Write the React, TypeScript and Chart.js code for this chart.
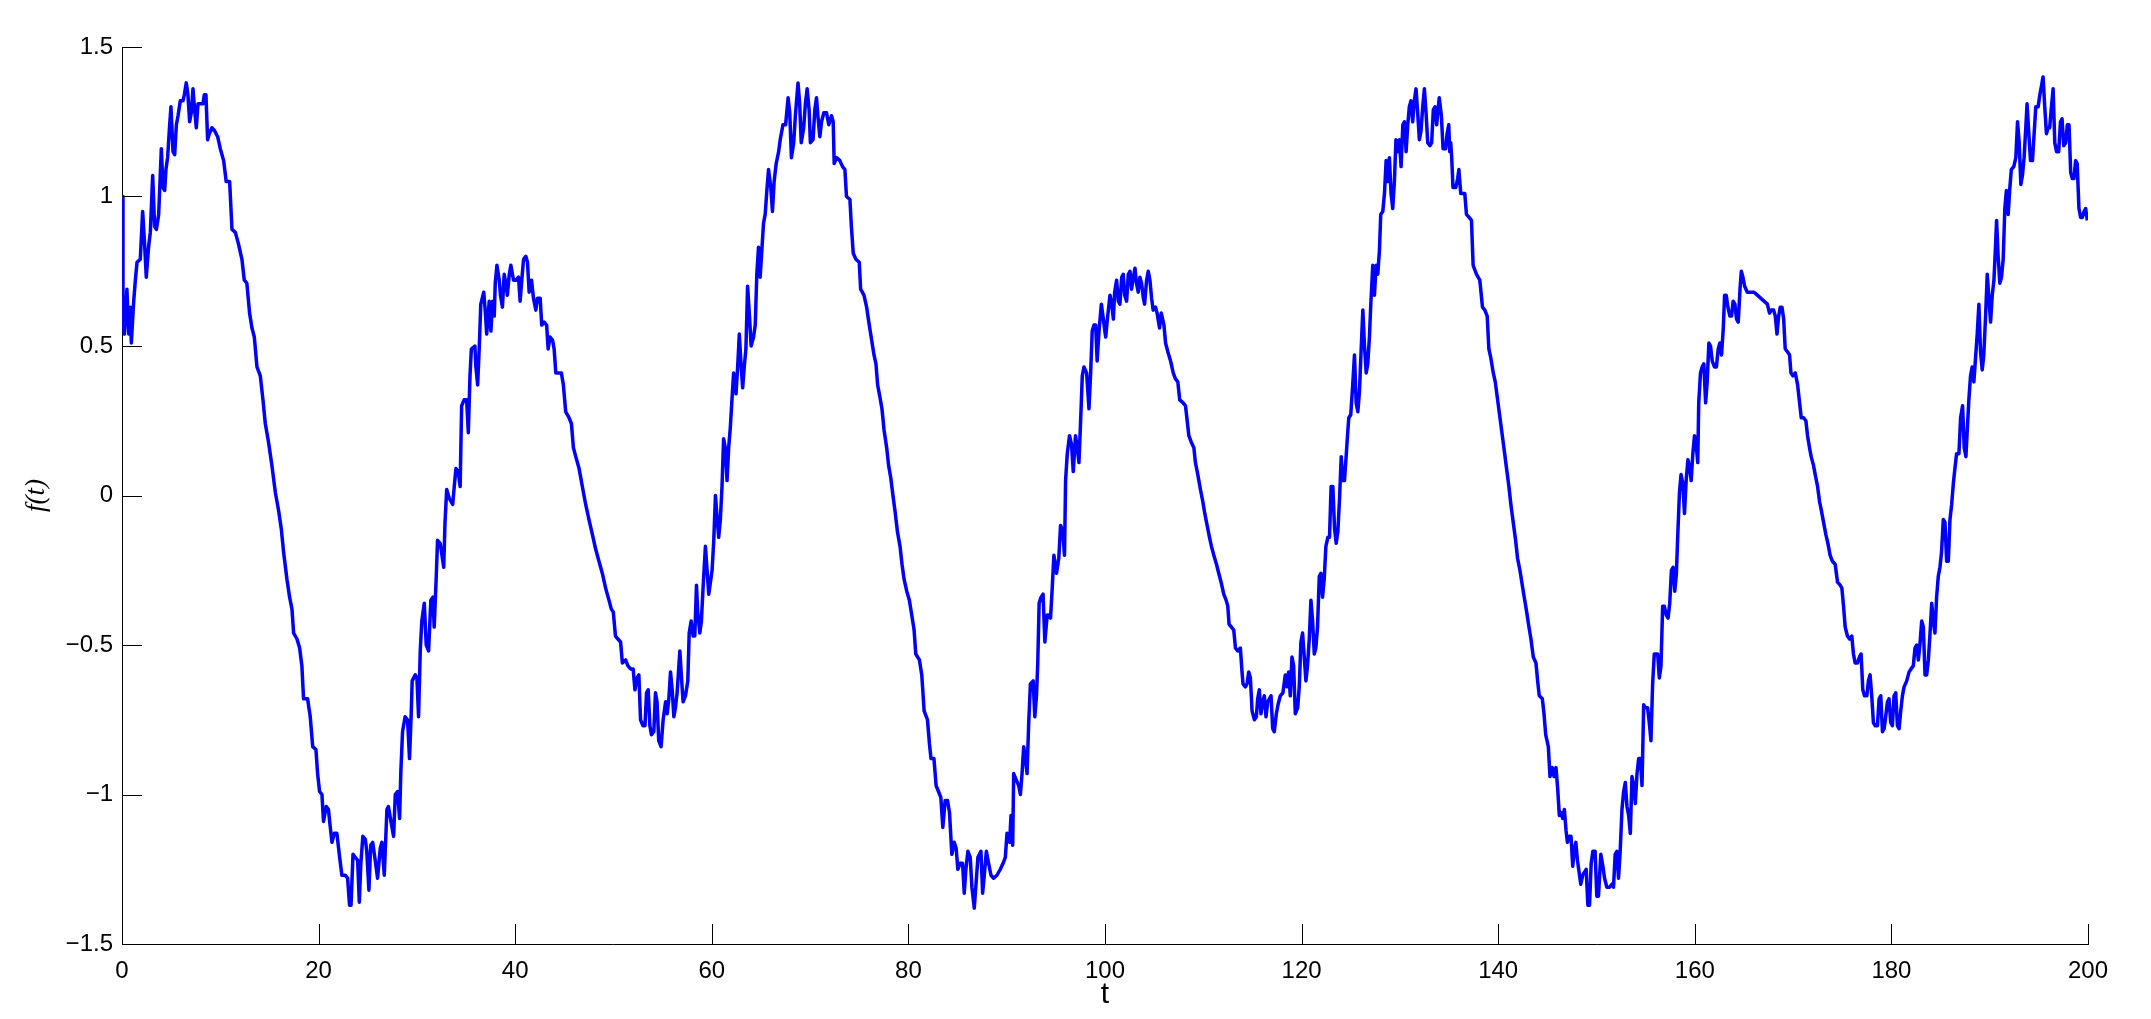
import React, { useEffect, useRef } from "react";
import { Chart, registerables } from "chart.js";

Chart.register(...registerables);

// Tick values
const X_TICKS = [0, 20, 40, 60, 80, 100, 120, 140, 160, 180, 200];
const Y_TICKS = [-1.5, -1, -0.5, 0, 0.5, 1, 1.5];
const X_LABEL = "t";
const Y_LABEL = "f(t)";

// Samples [t, f(t)], one array per stretch of the curve
const segmentA: [number, number][] = [
  [0, 1.0], [0.1, 0.59], [0.24, 0.54], [0.5, 0.69], [0.68, 0.54], [0.85, 0.63], [0.95, 0.51], [1.19, 0.65], [1.36, 0.72], [1.53, 0.78], [1.86, 0.79], [2.1, 0.95], [2.3, 0.84], [2.47, 0.73], [2.7, 0.83], [2.88, 0.88], [3.12, 1.07], [3.32, 0.9], [3.5, 0.89], [3.73, 0.94], [3.83, 1.02], [4.0, 1.16], [4.17, 1.03], [4.34, 1.02], [4.47, 1.09], [4.64, 1.13], [4.85, 1.24], [4.98, 1.3], [5.19, 1.15], [5.36, 1.14], [5.53, 1.24], [5.7, 1.27], [5.93, 1.32], [6.2, 1.32], [6.34, 1.34], [6.54, 1.38], [6.71, 1.34], [6.88, 1.25], [7.05, 1.28], [7.22, 1.36], [7.39, 1.29], [7.56, 1.23], [7.73, 1.31], [7.97, 1.31], [8.24, 1.31], [8.37, 1.34], [8.54, 1.34], [8.71, 1.19], [8.88, 1.21], [9.15, 1.23], [9.42, 1.22], [9.73, 1.2], [10.0, 1.16], [10.34, 1.12], [10.6, 1.05], [10.95, 1.05], [11.19, 0.89], [11.53, 0.88], [11.86, 0.84], [12.2, 0.79], [12.44, 0.72], [12.7, 0.71], [12.98, 0.61], [13.22, 0.56], [13.46, 0.53], [13.73, 0.43], [14.07, 0.4], [14.34, 0.32], [14.58, 0.24], [14.9, 0.18], [15.25, 0.1], [15.6, 0.01], [15.93, -0.05], [16.2, -0.11], [16.44, -0.19], [16.78, -0.28], [17.05, -0.34], [17.29, -0.38], [17.46, -0.46], [17.8, -0.48], [18.07, -0.51], [18.3, -0.57], [18.47, -0.68], [18.88, -0.68], [19.15, -0.74], [19.4, -0.84], [19.73, -0.85], [19.9, -0.93], [20.1, -0.99], [20.34, -1.0], [20.5, -1.09], [20.78, -1.04], [21.0, -1.05], [21.19, -1.11], [21.36, -1.16], [21.6, -1.13], [21.86, -1.13], [22.14, -1.21], [22.37, -1.27], [22.7, -1.27], [22.95, -1.28], [23.15, -1.37], [23.3, -1.37], [23.5, -1.2], [23.73, -1.21], [23.97, -1.22], [24.14, -1.36], [24.3, -1.23], [24.5, -1.14], [24.75, -1.15], [24.9, -1.19], [25.12, -1.32], [25.3, -1.17], [25.5, -1.16], [25.76, -1.22], [26.0, -1.28], [26.27, -1.18], [26.44, -1.16], [26.68, -1.27], [26.95, -1.05], [27.1, -1.04], [27.36, -1.09], [27.63, -1.14], [27.8, -1.0], [28.03, -0.99], [28.24, -1.08], [28.37, -0.92], [28.54, -0.79], [28.8, -0.74], [29.05, -0.75], [29.25, -0.88], [29.42, -0.73], [29.52, -0.62], [29.83, -0.6], [30.0, -0.61], [30.17, -0.74], [30.34, -0.52], [30.5, -0.42], [30.75, -0.36], [30.95, -0.5], [31.19, -0.52], [31.42, -0.35], [31.63, -0.34], [31.76, -0.44], [31.97, -0.27], [32.1, -0.15], [32.37, -0.16],
];

const segmentB: [number, number][] = [
  [32.73, -0.24], [32.86, -0.09], [33.03, 0.02], [33.3, -0.01], [33.64, -0.03], [33.8, 0.03], [33.97, 0.09], [34.2, 0.08], [34.4, 0.03], [34.55, 0.3], [34.8, 0.32], [35.06, 0.32], [35.23, 0.21], [35.4, 0.4], [35.54, 0.49], [35.9, 0.5], [36.0, 0.43], [36.18, 0.37], [36.35, 0.5], [36.5, 0.64], [36.8, 0.68], [36.97, 0.61], [37.1, 0.54], [37.36, 0.65], [37.53, 0.55], [37.7, 0.65], [37.87, 0.6], [37.97, 0.71], [38.14, 0.77], [38.38, 0.72], [38.5, 0.67], [38.7, 0.63], [38.88, 0.74], [39.05, 0.71], [39.2, 0.67], [39.4, 0.74], [39.56, 0.77], [39.83, 0.72], [40.07, 0.72], [40.34, 0.73], [40.5, 0.65], [40.67, 0.72], [40.85, 0.79], [41.08, 0.8], [41.25, 0.78], [41.42, 0.68], [41.66, 0.72], [41.86, 0.66], [42.1, 0.62], [42.27, 0.66], [42.54, 0.66], [42.7, 0.57], [42.94, 0.58], [43.2, 0.57], [43.35, 0.49], [43.55, 0.53], [43.8, 0.52], [43.96, 0.49], [44.13, 0.41], [44.36, 0.41], [44.7, 0.41], [44.9, 0.37], [45.14, 0.28], [45.48, 0.26], [45.72, 0.24], [45.92, 0.16], [46.16, 0.13], [46.5, 0.09], [46.83, 0.03], [47.17, -0.03], [47.5, -0.08], [47.85, -0.13], [48.19, -0.18], [48.52, -0.22], [48.86, -0.26], [49.2, -0.31], [49.54, -0.35], [49.78, -0.38], [49.98, -0.39], [50.2, -0.47], [50.45, -0.48], [50.72, -0.49], [50.9, -0.56], [51.23, -0.55], [51.47, -0.57], [51.74, -0.58], [52.0, -0.58], [52.18, -0.65], [52.4, -0.61], [52.58, -0.6], [52.75, -0.75], [52.99, -0.77], [53.2, -0.77], [53.36, -0.66], [53.53, -0.65], [53.7, -0.77], [53.86, -0.8], [54.1, -0.79], [54.27, -0.66], [54.43, -0.69], [54.6, -0.82], [54.84, -0.84], [55.05, -0.75], [55.3, -0.69], [55.46, -0.73], [55.63, -0.68], [55.8, -0.59], [55.97, -0.65], [56.14, -0.74], [56.3, -0.71], [56.47, -0.66], [56.75, -0.52], [56.9, -0.6], [57.08, -0.69], [57.32, -0.67], [57.56, -0.62], [57.7, -0.46], [57.9, -0.42], [58.1, -0.47], [58.27, -0.47], [58.44, -0.3], [58.57, -0.39], [58.78, -0.46], [58.94, -0.42], [59.11, -0.31], [59.35, -0.17], [59.52, -0.25], [59.69, -0.33], [59.86, -0.29], [60.03, -0.25], [60.2, -0.15], [60.37, 0.0], [60.53, -0.07], [60.7, -0.14], [60.87, -0.08], [61.04, 0.03], [61.2, 0.19], [61.37, 0.16], [61.55, 0.05], [61.72, 0.16], [61.89, 0.23], [62.05, 0.32], [62.22, 0.41], [62.46, 0.34], [62.63, 0.43], [62.8, 0.54], [62.97, 0.44], [63.14, 0.36], [63.3, 0.43], [63.47, 0.49], [63.64, 0.7], [63.85, 0.59], [64.0, 0.5], [64.25, 0.53], [64.42, 0.57], [64.58, 0.74], [64.75, 0.83], [64.92, 0.73], [65.09, 0.82], [65.26, 0.91], [65.43, 0.94], [65.6, 1.02], [65.77, 1.09], [66.0, 1.03], [66.17, 0.95], [66.34, 1.05], [66.55, 1.11], [66.8, 1.15], [66.96, 1.19],
];

const segmentC: [number, number][] = [
  [67.24, 1.24], [67.51, 1.24], [67.76, 1.33], [67.93, 1.28], [68.1, 1.13], [68.33, 1.18], [68.5, 1.27], [68.77, 1.38], [68.94, 1.31], [69.1, 1.18], [69.35, 1.23], [69.52, 1.31], [69.7, 1.36], [69.9, 1.29], [70.03, 1.18], [70.3, 1.19], [70.48, 1.29], [70.65, 1.33], [70.82, 1.26], [70.99, 1.2], [71.16, 1.25], [71.4, 1.28], [71.67, 1.28], [71.9, 1.24], [72.18, 1.27], [72.35, 1.25], [72.45, 1.11], [72.69, 1.13], [73.03, 1.12], [73.3, 1.1], [73.54, 1.09], [73.7, 1.0], [74.05, 0.99], [74.2, 0.9], [74.39, 0.81], [74.66, 0.79], [75.0, 0.78], [75.14, 0.69], [75.48, 0.67], [75.75, 0.63], [76.02, 0.57], [76.26, 0.52], [76.5, 0.47], [76.7, 0.44], [76.87, 0.37], [77.1, 0.33], [77.31, 0.29], [77.52, 0.22], [77.79, 0.16], [77.99, 0.1], [78.2, 0.06], [78.47, -0.01], [78.67, -0.06], [78.88, -0.12], [79.15, -0.17], [79.35, -0.23], [79.56, -0.28], [79.83, -0.32], [80.1, -0.35], [80.34, -0.4], [80.58, -0.45], [80.75, -0.53], [81.12, -0.55], [81.36, -0.6], [81.6, -0.72], [81.94, -0.75], [82.14, -0.83], [82.3, -0.88], [82.6, -0.88], [82.82, -0.97], [83.06, -0.99], [83.3, -1.01], [83.5, -1.11], [83.74, -1.02], [83.98, -1.02], [84.18, -1.06], [84.42, -1.2], [84.66, -1.16], [84.86, -1.18], [85.03, -1.25], [85.27, -1.23], [85.51, -1.23], [85.68, -1.33], [85.85, -1.25], [86.05, -1.19], [86.29, -1.21], [86.46, -1.31], [86.7, -1.38], [86.9, -1.29], [87.07, -1.21], [87.38, -1.19], [87.55, -1.33], [87.72, -1.27], [87.93, -1.19], [88.16, -1.23], [88.4, -1.27], [88.67, -1.28], [89.01, -1.27], [89.35, -1.25], [89.63, -1.23], [89.86, -1.21], [90.03, -1.13], [90.3, -1.16], [90.44, -1.07], [90.61, -1.17], [90.71, -0.93], [90.95, -0.95], [91.22, -0.97], [91.39, -1.0], [91.56, -0.93], [91.73, -0.84], [91.9, -0.88], [92.07, -0.93], [92.24, -0.76], [92.41, -0.63], [92.69, -0.62], [92.86, -0.74], [93.03, -0.67], [93.16, -0.56], [93.3, -0.36], [93.5, -0.34], [93.7, -0.33], [93.88, -0.49], [94.12, -0.4], [94.29, -0.4], [94.46, -0.41], [94.63, -0.31], [94.8, -0.2], [95.07, -0.26], [95.3, -0.21], [95.48, -0.1], [95.71, -0.12], [95.88, -0.2], [95.99, 0.05], [96.16, 0.14], [96.39, 0.2], [96.6, 0.17], [96.77, 0.08], [97.0, 0.2], [97.18, 0.16], [97.35, 0.11], [97.52, 0.25], [97.69, 0.4], [97.86, 0.43], [98.13, 0.41], [98.37, 0.29], [98.54, 0.41], [98.7, 0.55], [98.88, 0.57], [99.05, 0.57], [99.2, 0.45], [99.39, 0.55], [99.63, 0.64], [99.83, 0.59], [100.07, 0.53], [100.24, 0.59], [100.51, 0.67],
];

const segmentD: [number, number][] = [
  [100.68, 0.64], [100.85, 0.59], [100.98, 0.68], [101.18, 0.72], [101.35, 0.65], [101.52, 0.64], [101.7, 0.73], [101.86, 0.74], [102.0, 0.67], [102.2, 0.65], [102.37, 0.74], [102.54, 0.75], [102.7, 0.69], [102.88, 0.73], [103.05, 0.76], [103.2, 0.71], [103.38, 0.68], [103.55, 0.73], [103.72, 0.71], [103.9, 0.66], [104.03, 0.64], [104.23, 0.72], [104.4, 0.75], [104.57, 0.72], [104.74, 0.66], [104.9, 0.62], [105.14, 0.63], [105.3, 0.61], [105.55, 0.56], [105.72, 0.61], [106.0, 0.57], [106.16, 0.51], [106.4, 0.48], [106.67, 0.45], [106.94, 0.41], [107.17, 0.39], [107.41, 0.38], [107.6, 0.32], [107.95, 0.31], [108.19, 0.3], [108.36, 0.25], [108.53, 0.2], [108.76, 0.18], [109.04, 0.16], [109.2, 0.11], [109.44, 0.07], [109.71, 0.02], [109.95, -0.02], [110.15, -0.06], [110.39, -0.1], [110.63, -0.14], [110.83, -0.17], [111.07, -0.2], [111.34, -0.23], [111.57, -0.26], [111.81, -0.29], [112.08, -0.33], [112.32, -0.35], [112.49, -0.37], [112.62, -0.43], [112.86, -0.44], [113.1, -0.45], [113.27, -0.51], [113.5, -0.52], [113.77, -0.51], [113.94, -0.59], [114.04, -0.63], [114.28, -0.64], [114.45, -0.63], [114.62, -0.59], [114.79, -0.61], [114.96, -0.72], [115.2, -0.75], [115.4, -0.74], [115.53, -0.68], [115.7, -0.65], [115.87, -0.73], [116.04, -0.69], [116.21, -0.67], [116.38, -0.74], [116.55, -0.69], [116.72, -0.68], [116.89, -0.67], [117.06, -0.78], [117.22, -0.79], [117.43, -0.73], [117.6, -0.7], [117.83, -0.67], [118.1, -0.66], [118.34, -0.6], [118.51, -0.64], [118.68, -0.59], [118.85, -0.67], [119.02, -0.54], [119.19, -0.57], [119.36, -0.73], [119.6, -0.71], [119.76, -0.64], [119.93, -0.49], [120.1, -0.46], [120.27, -0.54], [120.44, -0.62], [120.6, -0.57], [120.78, -0.48], [120.95, -0.35], [121.12, -0.42], [121.29, -0.53], [121.45, -0.51], [121.62, -0.44], [121.8, -0.27], [121.96, -0.26], [122.13, -0.34], [122.3, -0.28], [122.47, -0.17], [122.67, -0.14], [122.84, -0.14], [123.0, 0.03], [123.18, 0.03], [123.35, -0.11], [123.52, -0.16], [123.69, -0.12], [123.86, -0.01], [124.03, 0.13], [124.2, 0.05], [124.36, 0.05], [124.53, 0.13], [124.67, 0.2], [124.8, 0.26], [125.0, 0.27], [125.2, 0.37], [125.38, 0.47], [125.55, 0.31], [125.72, 0.28], [125.89, 0.35], [126.06, 0.49], [126.23, 0.62], [126.4, 0.5], [126.57, 0.41], [126.73, 0.44], [126.9, 0.53], [127.04, 0.64], [127.24, 0.77], [127.41, 0.67], [127.58, 0.77], [127.75, 0.74], [127.92, 0.82], [128.05, 0.94], [128.26, 0.95], [128.43, 1.01], [128.6, 1.12], [128.76, 1.05], [128.93, 1.13], [129.1, 1.01], [129.27, 0.96], [129.44, 1.05], [129.6, 1.19], [129.78, 1.15], [129.95, 1.19], [130.12, 1.1], [130.3, 1.24], [130.46, 1.25], [130.63, 1.15], [130.8, 1.24], [130.96, 1.3], [131.13, 1.32], [131.3, 1.25], [131.47, 1.32], [131.64, 1.36], [131.81, 1.28], [131.98, 1.19], [132.15, 1.22], [132.32, 1.3], [132.49, 1.36], [132.66, 1.28], [132.83, 1.18], [133.06, 1.17], [133.23, 1.18], [133.4, 1.29], [133.57, 1.3], [133.74, 1.24], [134.0, 1.33],
];

const segmentE: [number, number][] = [
  [134.22, 1.27], [134.39, 1.16], [134.66, 1.16], [134.8, 1.21], [134.97, 1.24], [135.07, 1.15], [135.17, 1.18], [135.27, 1.13], [135.4, 1.03], [135.68, 1.03], [135.88, 1.06], [136.0, 1.09], [136.19, 1.01], [136.43, 1.01], [136.6, 1.01], [136.77, 0.94], [137.04, 0.93], [137.28, 0.92], [137.45, 0.77], [137.79, 0.74], [138.13, 0.72], [138.4, 0.63], [138.64, 0.62], [138.88, 0.6], [139.05, 0.49], [139.25, 0.46], [139.5, 0.41], [139.7, 0.38], [139.9, 0.33], [140.1, 0.28], [140.34, 0.22], [140.58, 0.16], [140.85, 0.09], [141.09, 0.03], [141.29, -0.03], [141.53, -0.09], [141.77, -0.15], [141.97, -0.21], [142.21, -0.25], [142.45, -0.3], [142.65, -0.34], [142.9, -0.39], [143.13, -0.44], [143.33, -0.48], [143.57, -0.54], [143.84, -0.56], [144.01, -0.62], [144.18, -0.67], [144.49, -0.68], [144.66, -0.73], [144.83, -0.8], [145.1, -0.84], [145.27, -0.94], [145.51, -0.91], [145.68, -0.94], [145.88, -0.91], [146.05, -0.98], [146.22, -1.07], [146.39, -1.06], [146.56, -1.08], [146.73, -1.05], [146.9, -1.12], [147.04, -1.16], [147.24, -1.14], [147.41, -1.14], [147.58, -1.24], [147.76, -1.18], [147.9, -1.16], [148.06, -1.22], [148.23, -1.26], [148.4, -1.3], [148.6, -1.27], [148.78, -1.26], [148.95, -1.25], [149.12, -1.37], [149.29, -1.37], [149.46, -1.23], [149.63, -1.19], [149.86, -1.19], [150.03, -1.34], [150.2, -1.34], [150.44, -1.2], [150.65, -1.24], [150.82, -1.28], [151.05, -1.31], [151.33, -1.31], [151.56, -1.3], [151.73, -1.31], [151.9, -1.2], [152.07, -1.19], [152.24, -1.28], [152.41, -1.19], [152.59, -1.05], [152.76, -0.99], [152.93, -0.96], [153.1, -1.04], [153.27, -1.07], [153.44, -1.13], [153.61, -0.94], [153.78, -0.97], [153.95, -1.03], [154.12, -0.93], [154.29, -0.88], [154.46, -0.88], [154.63, -0.97], [154.8, -0.7], [154.97, -0.71], [155.2, -0.71], [155.37, -0.76], [155.54, -0.82], [155.71, -0.63], [155.88, -0.53], [156.05, -0.53], [156.22, -0.53], [156.39, -0.61], [156.56, -0.57], [156.73, -0.37], [156.9, -0.37], [157.1, -0.4], [157.28, -0.41], [157.45, -0.36], [157.62, -0.25], [157.79, -0.24], [157.96, -0.32], [158.13, -0.26], [158.27, -0.13], [158.44, 0.01], [158.6, 0.07], [158.78, 0.04], [158.95, -0.06], [159.12, 0.05], [159.3, 0.12], [159.45, 0.1], [159.63, 0.05], [159.8, 0.14], [159.97, 0.2], [160.14, 0.17], [160.3, 0.11], [160.4, 0.31], [160.58, 0.41], [160.75, 0.43], [160.92, 0.44], [161.1, 0.31], [161.26, 0.38], [161.43, 0.51], [161.6, 0.5], [161.77, 0.45], [162.0, 0.43], [162.2, 0.43], [162.38, 0.49], [162.55, 0.51], [162.72, 0.47], [162.9, 0.56], [163.03, 0.67], [163.2, 0.67], [163.37, 0.63], [163.57, 0.6], [163.74, 0.6], [163.9, 0.65], [164.08, 0.64], [164.25, 0.59], [164.42, 0.58], [164.6, 0.69], [164.73, 0.75], [164.9, 0.73], [165.07, 0.7], [165.34, 0.68], [165.68, 0.68], [166.02, 0.68], [166.36, 0.67], [166.7, 0.66], [167.04, 0.65], [167.38, 0.64],
];

const segmentF: [number, number][] = [
  [167.6, 0.61], [167.78, 0.62], [168.02, 0.62], [168.19, 0.6], [168.36, 0.54], [168.53, 0.6], [168.7, 0.63], [168.87, 0.63], [169.04, 0.59], [169.2, 0.49], [169.44, 0.48], [169.64, 0.47], [169.78, 0.41], [169.98, 0.4], [170.22, 0.41], [170.46, 0.37], [170.66, 0.31], [170.83, 0.26], [171.07, 0.26], [171.3, 0.25], [171.47, 0.2], [171.67, 0.16], [171.84, 0.13], [172.08, 0.1], [172.25, 0.07], [172.49, 0.03], [172.69, -0.02], [172.93, -0.06], [173.1, -0.09], [173.33, -0.13], [173.54, -0.16], [173.77, -0.2], [174.0, -0.22], [174.28, -0.23], [174.52, -0.29], [174.79, -0.3], [174.96, -0.31], [175.13, -0.37], [175.3, -0.44], [175.53, -0.47], [175.74, -0.48], [175.97, -0.47], [176.14, -0.53], [176.31, -0.56], [176.55, -0.56], [176.75, -0.54], [176.92, -0.53], [177.09, -0.65], [177.26, -0.67], [177.5, -0.67], [177.66, -0.62], [177.83, -0.6], [178.0, -0.67], [178.17, -0.76], [178.34, -0.77], [178.58, -0.77], [178.75, -0.68], [178.92, -0.67], [179.09, -0.79], [179.26, -0.78], [179.42, -0.74], [179.6, -0.69], [179.76, -0.68], [179.93, -0.76], [180.1, -0.77], [180.27, -0.67], [180.44, -0.66], [180.61, -0.77], [180.78, -0.78], [180.95, -0.72], [181.12, -0.67], [181.29, -0.64], [181.56, -0.62], [181.8, -0.59], [182.0, -0.58], [182.23, -0.57], [182.4, -0.51], [182.57, -0.5], [182.74, -0.55], [182.9, -0.5], [183.08, -0.42], [183.25, -0.44], [183.42, -0.6], [183.59, -0.6], [183.76, -0.55], [183.93, -0.46], [184.1, -0.36], [184.26, -0.42], [184.43, -0.46], [184.6, -0.34], [184.77, -0.27], [184.94, -0.24], [185.1, -0.19], [185.28, -0.08], [185.45, -0.09], [185.62, -0.22], [185.79, -0.22], [185.96, -0.08], [186.13, -0.03], [186.3, 0.04], [186.46, 0.09], [186.63, 0.14], [186.87, 0.14], [187.04, 0.26], [187.24, 0.3], [187.41, 0.16], [187.58, 0.13], [187.72, 0.22], [187.88, 0.32], [188.05, 0.4], [188.22, 0.43], [188.39, 0.38], [188.56, 0.46], [188.73, 0.54], [188.9, 0.64], [189.07, 0.48], [189.24, 0.42], [189.4, 0.47], [189.58, 0.6], [189.75, 0.74], [189.92, 0.66], [190.09, 0.58], [190.26, 0.67], [190.43, 0.72], [190.6, 0.84], [190.7, 0.92], [190.86, 0.8], [191.03, 0.71], [191.2, 0.73], [191.37, 0.79], [191.54, 0.96], [191.7, 1.02], [191.88, 0.94], [192.05, 1.03], [192.2, 1.09], [192.45, 1.1], [192.66, 1.13], [192.83, 1.25], [193.0, 1.18], [193.17, 1.04], [193.33, 1.07], [193.5, 1.13], [193.67, 1.23], [193.8, 1.31], [193.98, 1.21], [194.15, 1.12], [194.35, 1.12], [194.52, 1.21], [194.69, 1.3], [194.93, 1.3], [195.1, 1.34], [195.27, 1.37], [195.43, 1.4], [195.6, 1.3], [195.77, 1.21], [195.94, 1.23], [196.1, 1.23], [196.28, 1.3], [196.45, 1.36], [196.62, 1.18], [196.8, 1.15], [197.02, 1.15], [197.2, 1.25], [197.36, 1.26], [197.53, 1.17], [197.73, 1.18], [197.9, 1.24], [198.07, 1.24], [198.24, 1.08], [198.4, 1.06], [198.57, 1.06], [198.74, 1.12], [198.9, 1.11], [199.08, 0.96], [199.25, 0.93], [199.42, 0.93], [199.6, 0.95], [199.76, 0.96], [199.93, 0.92],
];

const SEGMENTS = [segmentA, segmentB, segmentC, segmentD, segmentE, segmentF];

const SANS = "'Liberation Sans', Arial, Helvetica, sans-serif";
const SERIF = "'Liberation Serif', 'Times New Roman', serif";

function formatTick(v: number): string {
  if (v < 0) return "\u2212" + String(Math.abs(v));
  return String(v);
}

// Inward-pointing tick marks, MATLAB style
const inwardTicks = {
  id: "inwardTicks",
  afterDatasetsDraw(chart: any) {
    const { ctx, chartArea, scales } = chart;
    const len = 20;
    ctx.save();
    ctx.strokeStyle = "#000000";
    ctx.lineWidth = 1;
    ctx.beginPath();
    for (const v of X_TICKS) {
      const px = Math.round(scales.x.getPixelForValue(v)) + 0.5;
      ctx.moveTo(px, chartArea.bottom);
      ctx.lineTo(px, chartArea.bottom - len);
    }
    for (const v of Y_TICKS) {
      const py = Math.round(scales.y.getPixelForValue(v)) + 0.5;
      ctx.moveTo(chartArea.left, py);
      ctx.lineTo(chartArea.left + len, py);
    }
    ctx.stroke();
    ctx.restore();
  },
};

export default function App() {
  const canvasRef = useRef<HTMLCanvasElement | null>(null);

  useEffect(() => {
    const canvas = canvasRef.current;
    if (!canvas) return;
    const points = SEGMENTS.flat().map(([x, y]) => ({ x, y }));

    const chart = new Chart(canvas, {
      type: "line",
      data: {
        datasets: [
          {
            data: points,
            borderColor: "#0000ff",
            borderWidth: 3.5,
            pointRadius: 0,
            fill: false,
            tension: 0,
            borderJoinStyle: "round",
          },
        ],
      },
      options: {
        responsive: false,
        animation: false,
        devicePixelRatio: 1,
        parsing: false,
        normalized: true,
        layout: { padding: { top: 47, right: 63, left: 0, bottom: 0 } },
        plugins: {
          legend: { display: false },
          tooltip: { enabled: false },
        },
        scales: {
          x: {
            type: "linear",
            min: 0,
            max: 200,
            afterBuildTicks: (s: any) => {
              s.ticks = X_TICKS.map((value) => ({ value }));
            },
            afterFit: (s: any) => {
              s.height = 75;
            },
            grid: { display: false, drawTicks: false },
            border: { display: true, color: "#000000", width: 1 },
            ticks: {
              color: "#000000",
              font: { family: SANS, size: 24 },
              padding: 13,
              maxRotation: 0,
              autoSkip: false,
              callback: (v: any) => formatTick(Number(v)),
            },
            title: {
              display: true,
              text: X_LABEL,
              color: "#000000",
              font: { family: SANS, size: 30 },
              padding: { top: 0, bottom: 6 },
            },
          },
          y: {
            type: "linear",
            min: -1.5,
            max: 1.5,
            afterBuildTicks: (s: any) => {
              s.ticks = Y_TICKS.map((value) => ({ value }));
            },
            afterFit: (s: any) => {
              s.width = 122;
            },
            grid: { display: false, drawTicks: false },
            border: { display: true, color: "#000000", width: 1 },
            ticks: {
              color: "#000000",
              font: { family: SANS, size: 24 },
              padding: 9,
              autoSkip: false,
              callback: (v: any) => formatTick(Number(v)),
            },
            title: {
              display: true,
              text: Y_LABEL,
              color: "#000000",
              font: { family: SERIF, size: 27, style: "italic" },
              padding: { top: 21, bottom: 0 },
            },
          },
        },
      },
      plugins: [inwardTicks],
    } as any);

    return () => {
      chart.destroy();
    };
  }, []);

  return (
    <div
      style={{
        position: "fixed",
        left: 0,
        top: 0,
        width: 2151,
        height: 1019,
        background: "#ffffff",
      }}
    >
      <canvas
        ref={canvasRef}
        width={2151}
        height={1019}
        style={{ display: "block", width: 2151, height: 1019 }}
      />
    </div>
  );
}
